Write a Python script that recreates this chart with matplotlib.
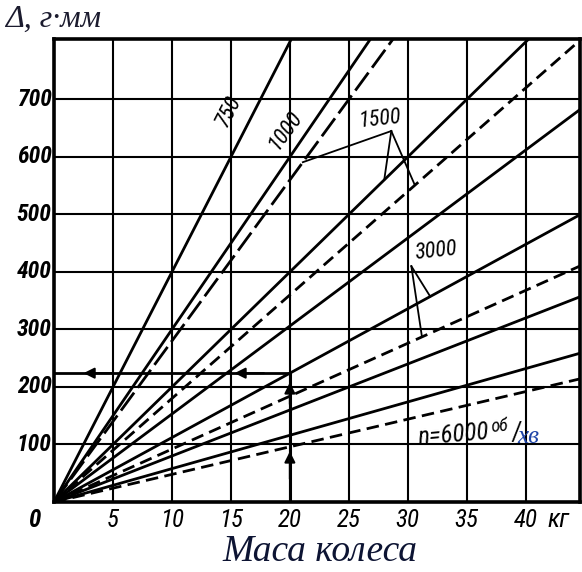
import numpy as np
import matplotlib
matplotlib.use("Agg")
import matplotlib.pyplot as plt
from matplotlib import font_manager as fm

# Wheel mass axis (kg) and residual unbalance axis (g*mm)
x_ticks = [5, 10, 15, 20, 25, 30, 35, 40]
y_ticks = [100, 200, 300, 400, 500, 600, 700]
x_max = 44.6
y_max = 805

# Permissible unbalance per kg of wheel mass for each line (g*mm/kg)
solid_slopes = [40.0, 30.0, 20.0, 15.3, 11.2, 8.0, 5.8]
long_dash_slopes = [28.0]
dashed_slopes = [18.0, 9.2, 4.8]

# Worked example: 20 kg wheel -> 224 g*mm
example_mass = 20
example_unbalance = 224

installed = {f.name for f in fm.fontManager.ttflist}
tech_family = next((f for f in ["Liberation Sans Narrow", "Roboto Condensed",
                                "DejaVu Sans"] if f in installed), "DejaVu Sans")
TECH = dict(family=tech_family, style="italic", color="black")
SERIF = ["Liberation Serif", "DejaVu Serif"]

fig = plt.figure(figsize=(5.82, 5.72), dpi=100)
ax = fig.add_axes([54 / 582, 70 / 572, 526 / 582, 463 / 572])
ax.set_xlim(0, x_max)
ax.set_ylim(0, y_max)
ax.set_xticks([])
ax.set_yticks([])
for s in ax.spines.values():
    s.set_linewidth(2.6)

for xv in x_ticks:
    ax.axvline(xv, color="black", lw=1.5, zorder=1)
for yv in y_ticks:
    ax.axhline(yv, color="black", lw=1.5, zorder=1)

xs = np.array([0.0, 60.0])
for k in solid_slopes:
    ax.plot(xs, k * xs, color="black", lw=2.0, solid_capstyle="butt", zorder=3)
for k in long_dash_slopes:
    ax.plot(xs, k * xs, color="black", lw=2.0, dashes=(8, 2.2), zorder=3)
for k in dashed_slopes:
    ax.plot(xs, k * xs, color="black", lw=2.0, dashes=(4.5, 2.3), zorder=3)


def line_angle(k):
    p0 = ax.transData.transform((0, 0))
    p1 = ax.transData.transform((10, 10 * k))
    return np.degrees(np.arctan2(p1[1] - p0[1], p1[0] - p0[0]))


# Speed labels
ax.text(14.8, 680, "750", rotation=line_angle(40), ha="center", va="center",
        fontsize=16, **TECH)
ax.text(19.6, 645, "1000", rotation=line_angle(30) - 2, ha="center", va="center",
        fontsize=16, **TECH)
ax.text(27.6, 665, "1500", rotation=6, ha="center", va="center", fontsize=16, **TECH)
ax.text(32.4, 435, "3000", rotation=6, ha="center", va="center", fontsize=16, **TECH)

# Leader lines from the labels to their lines
apex = (28.6, 645)
for xe, k in [(21.1, 28.0), (28.0, 20.0), (30.6, 18.0)]:
    ax.plot([apex[0], xe], [apex[1], k * xe], color="black", lw=1.3, zorder=4)
apex3 = (30.3, 410)
for xe, k in [(31.9, 11.2), (31.2, 9.2)]:
    ax.plot([apex3[0], xe], [apex3[1], k * xe], color="black", lw=1.3, zorder=4)

# n = 6000 rpm label
ax.text(30.8, 116, "n=6000", rotation=5, ha="left", va="center", fontsize=18, **TECH)
ax.text(37.0, 131, "об", rotation=5, ha="left", va="center", fontsize=13, **TECH)
ax.text(38.7, 120, "/", rotation=5, ha="left", va="center", fontsize=19, **TECH)
ax.text(39.3, 113, "хв", ha="left", va="center", fontsize=18, family=SERIF,
        style="italic", color="#1f45a8")

# Worked example arrows
ax.plot([0, example_mass], [example_unbalance, example_unbalance], color="black",
        lw=2.0, zorder=5)
ax.plot([example_mass, example_mass], [0, example_unbalance], color="black",
        lw=2.2, zorder=5)
for tip, tail in [((2.5, example_unbalance), (5.0, example_unbalance)),
                  ((15.3, example_unbalance), (17.8, example_unbalance)),
                  ((example_mass, 88), (example_mass, 40)),
                  ((example_mass, 208), (example_mass, 170))]:
    ax.annotate("", xy=tip, xytext=tail,
                arrowprops=dict(arrowstyle="-|>", color="black", lw=1.5,
                                mutation_scale=16, shrinkA=0, shrinkB=0),
                zorder=6)

# Tick labels
for xv in x_ticks:
    ax.text(xv, -32, str(xv), ha="center", va="center", fontsize=18,
            clip_on=False, **TECH)
ax.text(-1.7, -32, "0", ha="center", va="center", fontsize=18, weight="bold",
        clip_on=False, **TECH)
ax.text(42.8, -32, "кг", ha="center", va="center", fontsize=19, clip_on=False, **TECH)
for yv in y_ticks:
    ax.text(-0.2, yv, str(yv), ha="right", va="center", fontsize=17, weight="bold",
            clip_on=False, **TECH)

# Axis titles
fig.text(5 / 582, 1 - 19 / 572, "Δ, г·мм", ha="left", va="center", fontsize=23,
         family=SERIF, style="italic", color="#1b1b2e")
fig.text(320 / 582, 1 - 552 / 572, "Маса колеса", ha="center", va="center",
         fontsize=27, family=SERIF, style="italic", color="#0d1433")

fig.savefig("out.png", dpi=100)
